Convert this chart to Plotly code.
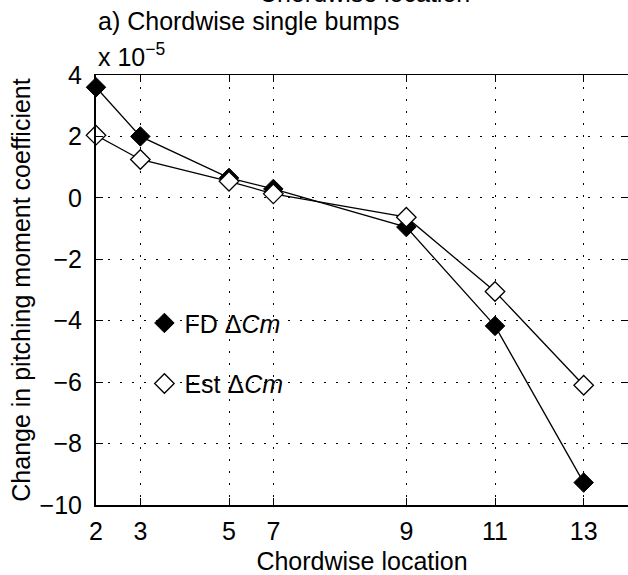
import plotly.graph_objects as go

# ---- data ----
x_pos = [2, 3, 5, 6, 9, 11, 13]
x_tick_text = ["2", "3", "5", "7", "9", "11", "13"]
fd_dcm = [3.60, 2.00, 0.65, 0.29, -0.95, -4.17, -9.27]
est_dcm = [2.04, 1.25, 0.54, 0.13, -0.63, -3.05, -6.10]
y_ticks = [-10, -8, -6, -4, -2, 0, 2, 4]
y_tick_text = ["\u221210", "\u22128", "\u22126", "\u22124", "\u22122", "0", "2", "4"]

FONT = "Liberation Sans, Arial, Helvetica, sans-serif"
FS = 25

fig = go.Figure()

fig.add_trace(go.Scatter(
    x=x_pos, y=fd_dcm, mode="lines+markers", showlegend=False,
    line=dict(color="black", width=1.3),
    marker=dict(symbol="diamond", size=15, color="black", line=dict(color="black", width=1)),
    cliponaxis=False,
))
fig.add_trace(go.Scatter(
    x=x_pos, y=est_dcm, mode="lines+markers", showlegend=False,
    line=dict(color="black", width=1.3),
    marker=dict(symbol="diamond", size=15, color="white", line=dict(color="black", width=1.3)),
    cliponaxis=False,
))
# legend entries (markers only, like the reference)
fig.add_trace(go.Scatter(
    x=[None], y=[None], mode="markers", name="FD \u0394<i>Cm</i>", legendgroup="a",
    marker=dict(symbol="diamond", size=15, color="black", line=dict(color="black", width=1)),
))
fig.add_trace(go.Scatter(
    x=[None], y=[None], mode="markers", name="Est \u0394<i>Cm</i>", legendgroup="b",
    marker=dict(symbol="diamond", size=15, color="white", line=dict(color="black", width=1.3)),
))
# dummy trace to enable top/right overlay axes (tick marks only)
fig.add_trace(go.Scatter(x=[None], y=[None], xaxis="x2", yaxis="y2", showlegend=False,
                         hoverinfo="skip"))

grid_dash = "1.5px,10.5px"

fig.update_layout(
    width=628, height=575,
    margin=dict(l=96, r=0, t=75, b=70),
    paper_bgcolor="white", plot_bgcolor="white",
    font=dict(family=FONT, size=FS, color="black"),
    xaxis=dict(
        range=[2, 14], tickvals=x_pos, ticktext=x_tick_text,
        ticks="inside", ticklen=7, tickwidth=1, tickcolor="black",
        showline=True, linecolor="black", linewidth=2,
        showgrid=True, gridcolor="black", gridwidth=1, griddash=grid_dash,
        zeroline=False,
        ticklabelstandoff=3,
        title=dict(text="Chordwise location", standoff=10, font=dict(size=FS)),
        tickfont=dict(size=FS),
    ),
    yaxis=dict(
        range=[-10, 4], tickvals=y_ticks, ticktext=y_tick_text,
        ticks="inside", ticklen=7, tickwidth=1, tickcolor="black",
        showline=True, linecolor="black", linewidth=2,
        showgrid=True, gridcolor="black", gridwidth=1, griddash=grid_dash,
        zeroline=False,
        ticklabelstandoff=7,
        title=dict(text="Change in pitching moment coefficient", standoff=2, font=dict(size=FS)),
        tickfont=dict(size=FS),
    ),
    xaxis2=dict(
        overlaying="x", side="top", anchor="y2", range=[2, 14], tickvals=x_pos,
        showticklabels=False, ticks="inside", ticklen=7, tickwidth=1, tickcolor="black",
        showline=True, linecolor="black", linewidth=1, showgrid=False, zeroline=False,
    ),
    yaxis2=dict(
        overlaying="y", side="right", anchor="x2", range=[-10, 4], tickvals=y_ticks,
        showticklabels=False, ticks="inside", ticklen=7, tickwidth=1, tickcolor="black",
        showline=False, showgrid=False, zeroline=False,
    ),
    legend=dict(
        x=0.091, y=0.353, xanchor="left", yanchor="middle",
        bgcolor="rgba(0,0,0,0)", borderwidth=0,
        font=dict(size=FS), traceorder="grouped", tracegroupgap=25,
    ),
    annotations=[
        dict(text="Chordwise location", xref="paper", yref="paper", x=0.505, y=1.153,
             xanchor="center", yanchor="bottom", showarrow=False, font=dict(size=FS)),
        dict(text="a) Chordwise single bumps", xref="paper", yref="paper", x=0.0, y=1.088,
             xanchor="left", yanchor="bottom", showarrow=False, font=dict(size=FS)),
        dict(text="x 10<sup>\u22125</sup>", xref="paper", yref="paper", x=0.0, y=1.005,
             xanchor="left", yanchor="bottom", showarrow=False, font=dict(size=FS)),
    ],
)

fig.write_html("out.html")
